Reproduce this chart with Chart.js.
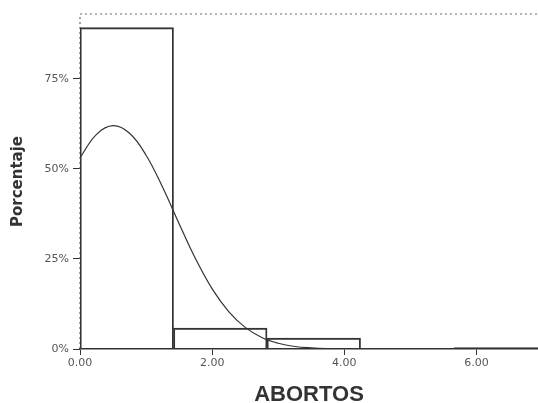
<!DOCTYPE html>
<html>
<head>
<meta charset="utf-8">
<script src="https://cdn.jsdelivr.net/npm/chart.js@4.4.1/dist/chart.umd.min.js"></script>
<style>
  html, body { margin: 0; padding: 0; background: #fff; }
  #wrap { width: 538px; height: 403px; position: relative; }
</style>
</head>
<body>
<div id="wrap"><canvas id="abortosChart"></canvas></div>
<script>
// histogram bins (width ~1.415) and percentage per bin
const binCenters = [0.7075, 2.1225, 3.5375, 4.9525, 6.3675];
const binPercents = [89.2, 5.8, 3.0, 0, 0.4];

// fitted normal curve, read at regular steps
const curveX = [0, 0.25, 0.5, 0.75, 1.0, 1.25, 1.5, 1.75, 2.0, 2.25, 2.5, 2.75, 3.0, 3.25, 3.5, 3.75, 4.0];
const curveY = [53.1, 59.6, 62.0, 59.9, 53.8, 44.9, 34.8, 25.0, 16.7, 10.4, 6.0, 3.2, 1.6, 0.7, 0.3, 0.1, 0.05];

const yTicks = [0, 25, 50, 75];
const xTicks = [0, 2, 4, 6];

const ink = '#333';
const tickFont = { family: 'DejaVu Sans', size: 11 };

// dotted frame along the top and left of the plot area
const dottedFrame = {
    id: 'dottedFrame',
    beforeDatasetsDraw(chart) {
        const { ctx, chartArea: a } = chart;
        ctx.save();
        ctx.strokeStyle = '#666';
        ctx.lineWidth = 1.2;
        ctx.setLineDash([2, 3]);
        ctx.beginPath();
        ctx.moveTo(a.left, a.bottom);
        ctx.lineTo(a.left, a.top);
        ctx.lineTo(a.right, a.top);
        ctx.stroke();
        ctx.restore();
    }
};

const ctx = document.getElementById('abortosChart').getContext('2d');
new Chart(ctx, {
    type: 'bar',
    data: {
        datasets: [
            {
                type: 'line',
                data: curveX.map((x, i) => ({ x: x, y: curveY[i] })),
                borderColor: ink,
                borderWidth: 1.2,
                pointRadius: 0,
                tension: 0.4,
                fill: false,
                order: 0
            },
            {
                type: 'bar',
                data: binCenters.map((x, i) => ({ x: x, y: binPercents[i] })),
                backgroundColor: 'rgba(255,255,255,0)',
                borderColor: ink,
                borderWidth: 1.2,
                barPercentage: 1,
                categoryPercentage: 1,
                order: 1
            }
        ]
    },
    options: {
        responsive: true,
        maintainAspectRatio: false,
        animation: false,
        layout: { padding: { top: 14, left: 0, right: 0, bottom: 0 } },
        plugins: { legend: { display: false }, tooltip: { enabled: false } },
        scales: {
            x: {
                type: 'linear',
                position: 'bottom',
                min: 0,
                max: 6.93,
                offset: false,
                afterBuildTicks: axis => { axis.ticks = xTicks.map(v => ({ value: v })); },
                afterFit: axis => { axis.height = 54; },
                ticks: {
                    color: '#555',
                    font: tickFont,
                    padding: 2,
                    maxRotation: 0,
                    autoSkip: false,
                    callback: v => v.toFixed(2)
                },
                grid: { drawOnChartArea: false, drawTicks: true, tickLength: 6, color: ink, offset: false },
                border: { color: ink, width: 1.5 },
                title: {
                    display: true,
                    text: 'ABORTOS',
                    color: ink,
                    font: { family: 'Liberation Sans', size: 22, weight: 'bold', lineHeight: 1 },
                    padding: { top: 0, bottom: -3 }
                }
            },
            y: {
                min: 0,
                max: 93,
                afterBuildTicks: axis => { axis.ticks = yTicks.map(v => ({ value: v })); },
                afterFit: axis => { axis.width = 80; },
                ticks: {
                    color: '#555',
                    font: tickFont,
                    padding: 4,
                    callback: v => v + '%'
                },
                grid: { drawOnChartArea: false, drawTicks: true, tickLength: 7, color: ink },
                border: { display: false },
                title: {
                    display: true,
                    text: 'Porcentaje',
                    color: ink,
                    font: { family: 'DejaVu Sans', size: 15, weight: 'bold' },
                    padding: { top: 9, bottom: 0 }
                }
            }
        }
    },
    plugins: [dottedFrame]
});
</script>
</body>
</html>
